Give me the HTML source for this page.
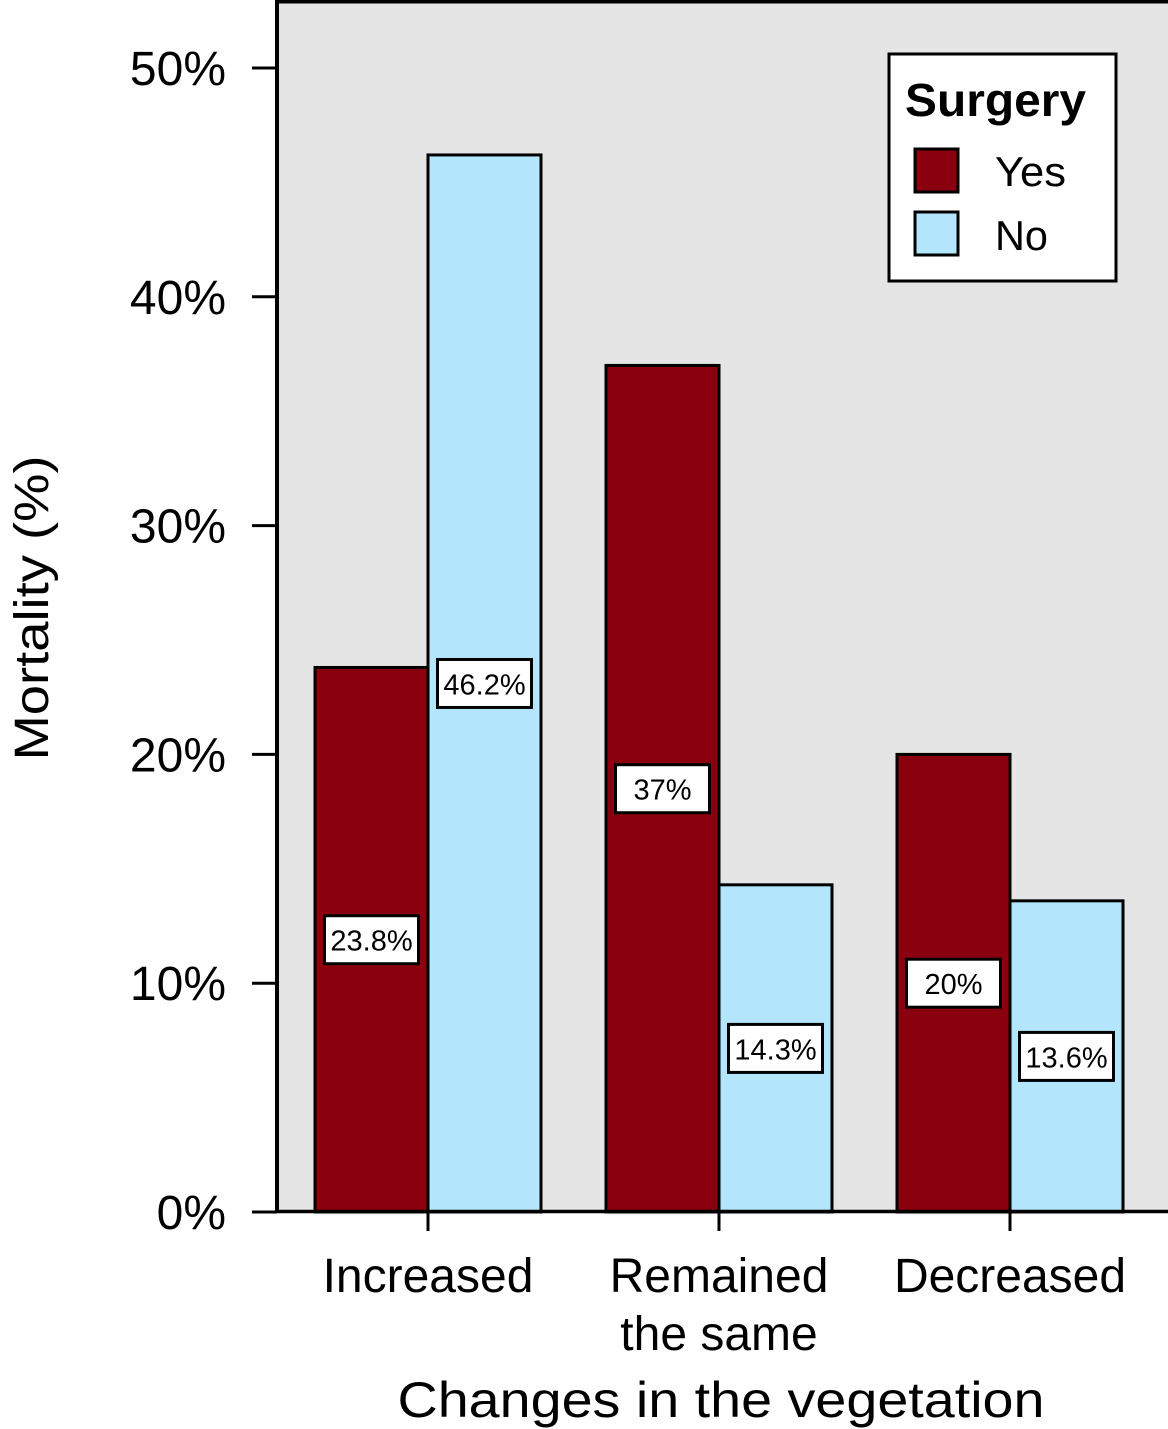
<!DOCTYPE html>
<html><head><meta charset="utf-8"><style>
body{margin:0;background:#fff}
svg{display:block;font-family:"Liberation Sans",Arial,sans-serif}
</style></head><body>
<svg id="chart" width="1168" height="1429" viewBox="0 0 1168 1429">
<rect x="277" y="1.5" width="900" height="1210" fill="#e5e5e5"/>
<g id="bars"></g>
<g id="labels"></g>
<line x1="277" y1="0" x2="277" y2="1213" stroke="#000" stroke-width="4"/>
<line x1="275" y1="1.5" x2="1168" y2="1.5" stroke="#000" stroke-width="4"/>
<line x1="275" y1="1211.5" x2="1168" y2="1211.5" stroke="#000" stroke-width="3.5"/>
<g id="yticks"></g>
<g id="xticks"></g>
<text x="48" y="608" font-size="48" text-anchor="middle" textLength="305" lengthAdjust="spacingAndGlyphs" transform="rotate(-90 48 608)">Mortality (%)</text>
<text x="721" y="1417" font-size="50" text-anchor="middle" textLength="647" lengthAdjust="spacingAndGlyphs">Changes in the vegetation</text>
<g>
<rect x="889" y="54" width="227" height="227" fill="#fff" stroke="#000" stroke-width="3"/>
<text x="905" y="116" font-size="46" font-weight="bold" textLength="181" lengthAdjust="spacingAndGlyphs">Surgery</text>
<rect x="915" y="149" width="43" height="43" fill="#8b000e" stroke="#000" stroke-width="3"/>
<text x="995" y="186" font-size="42" textLength="71" lengthAdjust="spacingAndGlyphs">Yes</text>
<rect x="915" y="212" width="43" height="43" fill="#b3e5fc" stroke="#000" stroke-width="3"/>
<text x="995" y="250" font-size="42" textLength="53" lengthAdjust="spacingAndGlyphs">No</text>
</g>
</svg>
<script>
const categories = ["Increased", "Remained|the same", "Decreased"];
const yesValues = [23.8, 37, 20];
const noValues = [46.2, 14.3, 13.6];
const yesLabels = ["23.8%", "37%", "20%"];
const noLabels = ["46.2%", "14.3%", "13.6%"];
const yTicks = [0, 10, 20, 30, 40, 50];
const yTickLabels = ["0%", "10%", "20%", "30%", "40%", "50%"];

const NS = "http://www.w3.org/2000/svg";
const y = v => 1212 - v * 22.88;
const xc = i => 428 + i * 291;
const BW = 113;
function mk(tag, attrs, parent, txt){
  const e = document.createElementNS(NS, tag);
  for (const k in attrs) e.setAttribute(k, attrs[k]);
  if (txt !== undefined) e.textContent = txt;
  document.getElementById(parent).appendChild(e);
  return e;
}
categories.forEach((c, i) => {
  const cx = xc(i);
  [[yesValues, yesLabels, "#8b000e", cx - BW, "yes"], [noValues, noLabels, "#b3e5fc", cx, "no"]].forEach(([vals, labs, col, x0, s]) => {
    const v = vals[i];
    const r = mk("rect", {x: x0, y: y(v), width: BW, height: y(0) - y(v), fill: col, stroke: "#000", "stroke-width": 3}, "bars");
    
    
    const my = y(v / 2), mx = x0 + BW / 2;
    const b = mk("rect", {x: mx - 47, y: my - 24, width: 94, height: 48, fill: "#fff", stroke: "#000", "stroke-width": 3}, "labels");
    
    
    const t = mk("text", {x: mx, y: my + 11, "font-size": 29, "text-anchor": "middle"}, "labels", labs[i]);
    
    
  });
  const tk = mk("line", {x1: cx, x2: cx, y1: 1212, y2: 1231, stroke: "#000", "stroke-width": 3}, "xticks");
  
  
  c.split("|").forEach((ln, j) => {
    const t = mk("text", {x: cx, y: 1292 + j * 58, "font-size": 48, "text-anchor": "middle"}, "xticks", ln);
    
    
  });
});
yTicks.forEach((v, i) => {
  const l = mk("line", {x1: 252, x2: 277, y1: y(v), y2: y(v), stroke: "#000", "stroke-width": 3}, "yticks");
  
  
  const t = mk("text", {x: 226, y: y(v) + 17, "font-size": 48, "text-anchor": "end"}, "yticks", yTickLabels[i]);
  
  
});
</script>
</body></html>
